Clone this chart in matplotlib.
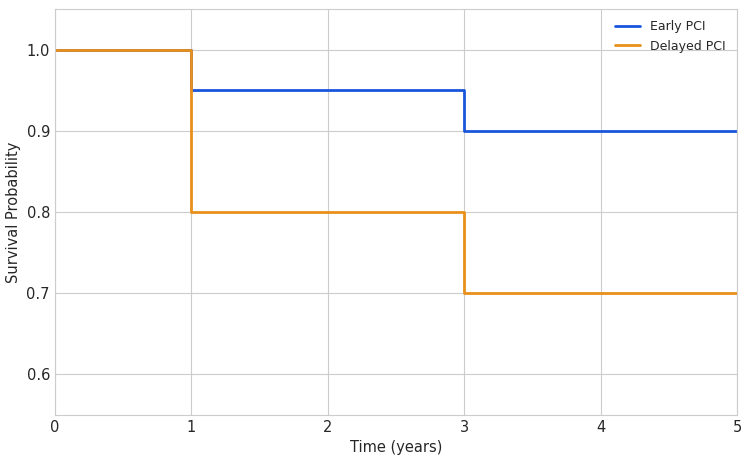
import matplotlib
matplotlib.use("Agg")
import matplotlib.pyplot as plt
import seaborn as sns

# survival data (step after each time point)
time_years = [0, 1, 3, 5]
early_pci = [1.0, 0.95, 0.90, 0.90]
delayed_pci = [1.0, 0.80, 0.70, 0.70]

sns.set_style("whitegrid")
plt.rcParams['font.family'] = ['DejaVu Sans']

fig, ax = plt.subplots(figsize=(7.5, 4.61), dpi=100)
ax.step(time_years, early_pci, where="post", color="#1a56db", lw=2, label="Early PCI")
ax.step(time_years, delayed_pci, where="post", color="#e8901a", lw=2, label="Delayed PCI")

ax.set_xlim(0, 5)
ax.set_ylim(0.55, 1.05)
ax.set_yticks([0.6, 0.7, 0.8, 0.9, 1.0])
ax.set_xlabel("Time (years)", fontsize=10.5)
ax.set_ylabel("Survival Probability", fontsize=10.5)
ax.tick_params(labelsize=10.5, length=0, pad=3.5)
ax.legend(loc="upper right", frameon=False, fontsize=9)

fig.subplots_adjust(left=0.073, right=0.983, top=0.98, bottom=0.1)
fig.savefig("out.png", dpi=100)
